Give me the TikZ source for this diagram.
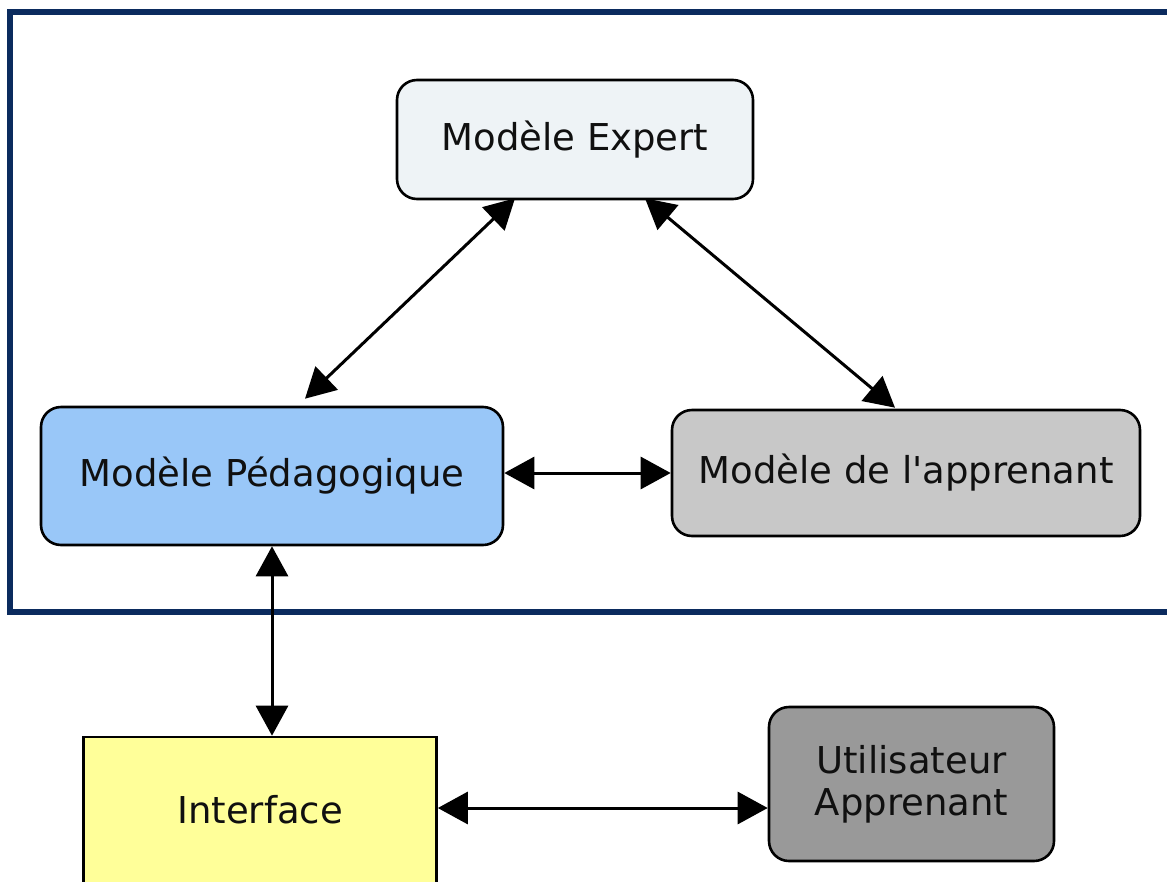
\documentclass[tikz,border=0pt]{standalone}
\usepackage{fontspec}
% a family without the TeX quote mapping, so that ' stays a straight apostrophe
\newfontfamily\labelfont{DejaVu Sans}
\usetikzlibrary{arrows.meta,calc}
\definecolor{framenavy}{HTML}{0B2B5E}
\definecolor{expertfill}{HTML}{EEF3F6}
\definecolor{pedafill}{HTML}{99C7F8}
\definecolor{apprfill}{HTML}{C8C8C8}
\definecolor{ifacefill}{HTML}{FFFF99}
\definecolor{userfill}{HTML}{999999}
\definecolor{txt}{HTML}{101010}
\begin{document}
\begin{tikzpicture}[x=1pt,y=-1pt,
  box/.style={draw=black,line width=2.6pt,rounded corners=20pt,inner sep=0pt,
    text=txt,font=\labelfont\fontsize{37}{42}\selectfont,align=center},
  sqbox/.style={box,rounded corners=0pt},
  link/.style={line width=3pt,draw=black,
    {Triangle[length=30pt,width=32pt]}-{Triangle[length=30pt,width=32pt]}}]
  \useasboundingbox[fill=white] (0,0) rectangle (1167,881);
  % outer frame around the core models
  \draw[framenavy,line width=6pt] (1190,11.5) -- (10,11.5) -- (10,612) -- (1190,612);

  % nodes
  \node[box,fill=expertfill,minimum width=356pt,minimum height=119pt] (exp) at (575,139.5) {Modèle Expert};
  \node[box,fill=pedafill,minimum width=462pt,minimum height=138pt] (ped) at (272,476) {Modèle Pédagogique};
  \node[box,fill=apprfill,minimum width=468pt,minimum height=126pt] (appr) at (906,473) {Modèle de l'apprenant};
  \node[sqbox,fill=ifacefill,minimum width=353pt,minimum height=146pt] (iface) at (260,810) {Interface};
  \node[box,fill=userfill,minimum width=285pt,minimum height=154pt] (user) at (911.5,784) {Utilisateur\\Apprenant};

  % connectors
  \draw[link] ([xshift=-60pt,yshift=2pt]exp.south) -- ([xshift=33pt,yshift=7pt]ped.north);
  \draw[link] ([xshift=70pt,yshift=2pt]exp.south) -- ([xshift=-11pt,yshift=1pt]appr.north);
  \coordinate (pe) at ([yshift=3pt]ped.east);
  \draw[link] (pe) -- (pe -| appr.west);
  \draw[link] (ped.south) -- (ped.south |- iface.north);
  \coordinate (ie) at ([yshift=2pt]iface.east);
  \draw[link] (ie) -- (ie -| user.west);
\end{tikzpicture}
\end{document}
